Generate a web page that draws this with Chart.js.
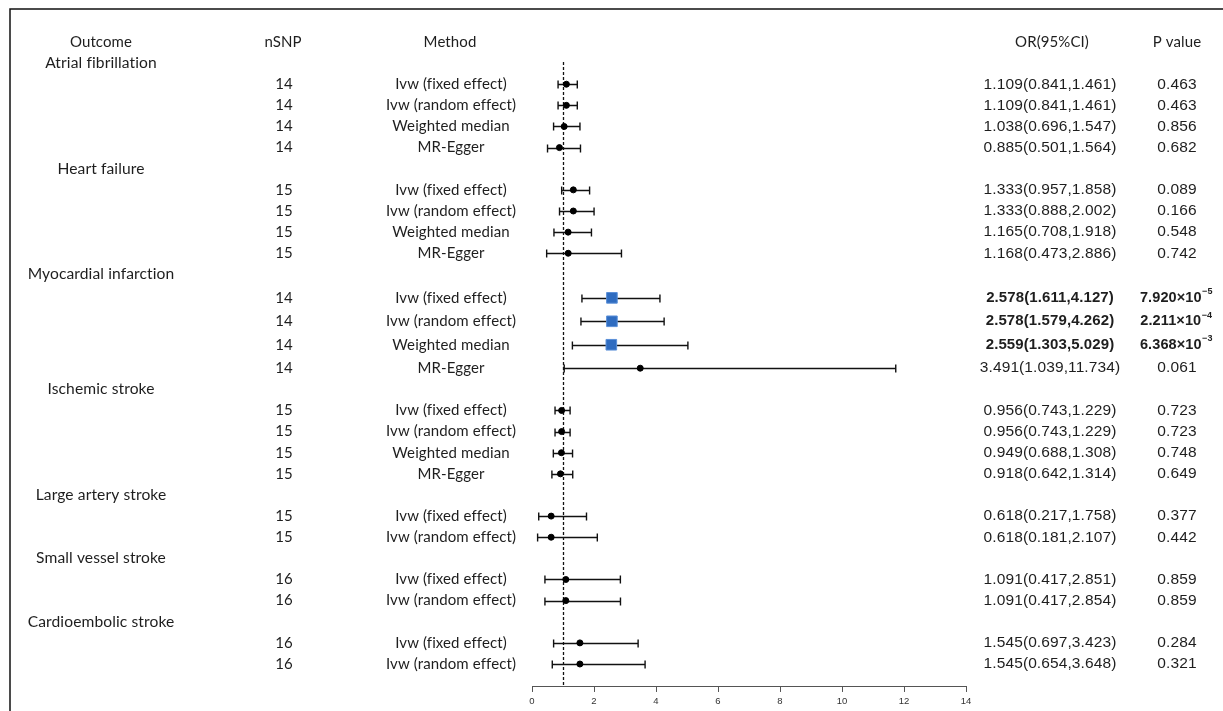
<!DOCTYPE html>
<html>
<head>
<meta charset="utf-8">
<script src="https://cdn.jsdelivr.net/npm/chart.js@4/dist/chart.umd.min.js"></script>
<style>
html,body{margin:0;padding:0;background:#fff;}
#wrap{width:1223px;height:711px;position:relative;}
</style>
</head>
<body>
<div id="wrap"><canvas id="c" width="1223" height="711"></canvas></div>
<script>
// ---- data ----
const outcomes = ['Atrial fibrillation','Heart failure','Myocardial infarction','Ischemic stroke','Large artery stroke','Small vessel stroke','Cardioembolic stroke'];
const rowGroup = [0,0,0,0, 1,1,1,1, 2,2,2,2, 3,3,3,3, 4,4, 5,5, 6,6];
const nsnp     = [14,14,14,14, 15,15,15,15, 14,14,14,14, 15,15,15,15, 15,15, 16,16, 16,16];
const methods  = ['Ivw (fixed effect)','Ivw (random effect)','Weighted median','MR-Egger',
                  'Ivw (fixed effect)','Ivw (random effect)','Weighted median','MR-Egger',
                  'Ivw (fixed effect)','Ivw (random effect)','Weighted median','MR-Egger',
                  'Ivw (fixed effect)','Ivw (random effect)','Weighted median','MR-Egger',
                  'Ivw (fixed effect)','Ivw (random effect)',
                  'Ivw (fixed effect)','Ivw (random effect)',
                  'Ivw (fixed effect)','Ivw (random effect)'];
const orVal = [1.109,1.109,1.038,0.885, 1.333,1.333,1.165,1.168, 2.578,2.578,2.559,3.491, 0.956,0.956,0.949,0.918, 0.618,0.618, 1.091,1.091, 1.545,1.545];
const ciLow = [0.841,0.841,0.696,0.501, 0.957,0.888,0.708,0.473, 1.611,1.579,1.303,1.039, 0.743,0.743,0.688,0.642, 0.217,0.181, 0.417,0.417, 0.697,0.654];
const ciHigh= [1.461,1.461,1.547,1.564, 1.858,2.002,1.918,2.886, 4.127,4.262,5.029,11.734, 1.229,1.229,1.308,1.314, 1.758,2.107, 2.851,2.854, 3.423,3.648];
const pBase = ['0.463','0.463','0.856','0.682', '0.089','0.166','0.548','0.742', '7.920×10','2.211×10','6.368×10','0.061', '0.723','0.723','0.748','0.649', '0.377','0.442', '0.859','0.859', '0.284','0.321'];
const pExp  = ['','','','', '','','','', '−5','−4','−3','', '','','','', '','', '','', '',''];
const significant = [0,0,0,0, 0,0,0,0, 1,1,1,0, 0,0,0,0, 0,0, 0,0, 0,0];
const xTicks = [0,2,4,6,8,10,12,14];
const headers = ['Outcome','nSNP','Method','OR(95%CI)','P value'];

// ---- row layout (row index on y scale); groups with highlighted rows get taller rows ----
const rowPos = [];
const groupPos = [];
let r = 0;
for (let i = 0; i < rowGroup.length; i++) {
  if (i === 0 || rowGroup[i] !== rowGroup[i-1]) { r += 1; groupPos.push(r); }
  const tall = rowGroup.some((g,j)=> g === rowGroup[i] && significant[j]);
  r += tall ? 1.11 : 1;
  rowPos.push(r);
}
const yMax = r + 1.087;

const points = orVal.map((v,i)=>({x:v, y:rowPos[i]}));

const LEFT_FONT = '15px Lato';
const GROUP_FONT = '15.6px Lato';
const RIGHT_FONT = '15.5px "Liberation Sans", Arial, sans-serif';
const RIGHT_BOLD = 'bold 15px "Liberation Sans", Arial, sans-serif';
const P_BOLD = 'bold 14.5px "Liberation Sans", Arial, sans-serif';
const SUP_FONT = 'bold 9px "Liberation Sans", Arial, sans-serif';
const TXT = '#1e1e1e';

const forestPlugin = {
  id: 'forest',
  beforeDraw(chart) {
    const ctx = chart.ctx;
    ctx.save();
    ctx.fillStyle = '#fff';
    ctx.fillRect(0,0,chart.width,chart.height);
    ctx.strokeStyle = '#111';
    ctx.lineWidth = 1.5;
    ctx.beginPath();
    ctx.moveTo(10, chart.height);
    ctx.lineTo(10, 9);
    ctx.lineTo(chart.width, 9);
    ctx.stroke();
    ctx.restore();
  },
  beforeDatasetsDraw(chart) {
    const ctx = chart.ctx;
    const xs = chart.scales.x, ys = chart.scales.y;
    ctx.save();
    ctx.strokeStyle = '#111';
    ctx.lineWidth = 1.3;
    ctx.setLineDash([3,2]);
    const x1 = Math.round(xs.getPixelForValue(1)) + 0.5;
    ctx.beginPath();
    ctx.moveTo(x1, ys.getPixelForValue(0.95));
    ctx.lineTo(x1, chart.chartArea.bottom);
    ctx.stroke();
    ctx.setLineDash([]);
    ctx.strokeStyle = '#111';
    ctx.lineWidth = 1.4;
    for (let i = 0; i < orVal.length; i++) {
      const y = Math.round(ys.getPixelForValue(rowPos[i])) + 0.5;
      const a = xs.getPixelForValue(ciLow[i]);
      const b = xs.getPixelForValue(ciHigh[i]);
      ctx.beginPath();
      ctx.moveTo(a, y); ctx.lineTo(b, y);
      ctx.moveTo(a, y-4); ctx.lineTo(a, y+4);
      ctx.moveTo(b, y-4); ctx.lineTo(b, y+4);
      ctx.stroke();
    }
    ctx.restore();
  },
  afterDraw(chart) {
    const ctx = chart.ctx;
    const ys = chart.scales.y;
    ctx.save();
    ctx.fillStyle = TXT;
    ctx.textBaseline = 'middle';
    ctx.textAlign = 'center';
    try { ctx.letterSpacing = '0.1px'; } catch(e) {}
    const hy = ys.getPixelForValue(0);
    ctx.font = LEFT_FONT;
    ctx.fillText(headers[0], 101, hy);
    ctx.fillText(headers[1], 283, hy);
    ctx.fillText(headers[2], 450, hy);
    ctx.fillText(headers[3], 1052, hy);
    ctx.fillText(headers[4], 1177, hy);
    ctx.font = GROUP_FONT;
    outcomes.forEach((o,g)=>{
      ctx.fillText(o, 101, ys.getPixelForValue(groupPos[g]));
    });
    for (let i = 0; i < orVal.length; i++) {
      const y = ys.getPixelForValue(rowPos[i]);
      ctx.font = LEFT_FONT;
      ctx.textAlign = 'center';
      ctx.fillText(String(nsnp[i]), 284, y);
      ctx.fillText(methods[i], 451, y);
      const txt = orVal[i].toFixed(3) + '(' + ciLow[i].toFixed(3) + ',' + ciHigh[i].toFixed(3) + ')';
      ctx.font = significant[i] ? RIGHT_BOLD : RIGHT_FONT;
      ctx.fillText(txt, 1050, y);
      if (pExp[i]) {
        ctx.font = P_BOLD;
        const wb = ctx.measureText(pBase[i]).width;
        ctx.font = SUP_FONT;
        const we = ctx.measureText(pExp[i]).width;
        const start = 1176 - (wb + we)/2;
        ctx.textAlign = 'left';
        ctx.font = P_BOLD;
        ctx.fillText(pBase[i], start, y);
        ctx.font = SUP_FONT;
        ctx.fillText(pExp[i], start + wb + 0.5, y - 6);
      } else {
        ctx.font = RIGHT_FONT;
        ctx.textAlign = 'center';
        ctx.fillText(pBase[i], 1177, y);
      }
    }
    ctx.restore();
  }
};

new Chart(document.getElementById('c'), {
  type: 'scatter',
  data: {
    datasets: [{
      data: points,
      pointStyle: significant.map(s => s ? 'rect' : 'circle'),
      pointRadius: significant.map(s => s ? 7.5 : 3),
      pointBackgroundColor: significant.map(s => s ? '#2f6cc0' : '#000'),
      pointBorderColor: significant.map(s => s ? '#5a8fd8' : '#000'),
      pointBorderWidth: 1,
      pointHoverRadius: significant.map(s => s ? 7.5 : 3)
    }]
  },
  options: {
    responsive: false,
    animation: false,
    events: [],
    layout: { padding: { left: 532, right: 257, top: 20.84, bottom: 0 } },
    plugins: { legend: { display: false }, tooltip: { enabled: false } },
    scales: {
      x: {
        type: 'linear', min: 0, max: 14,
        afterBuildTicks(axis) { axis.ticks = xTicks.map(v => ({value: v})); },
        ticks: { font: { size: 9.5, lineHeight: 0.95, family: '"Liberation Sans", Arial, sans-serif' }, color: '#333', padding: 5 },
        grid: { drawOnChartArea: false, drawTicks: true, tickLength: 5, color: '#555', lineWidth: 1 },
        border: { display: true, color: '#555', width: 1 }
      },
      y: {
        type: 'linear', reverse: true, min: -1, max: yMax,
        display: false
      }
    }
  },
  plugins: [forestPlugin]
});
</script>
</body>
</html>
